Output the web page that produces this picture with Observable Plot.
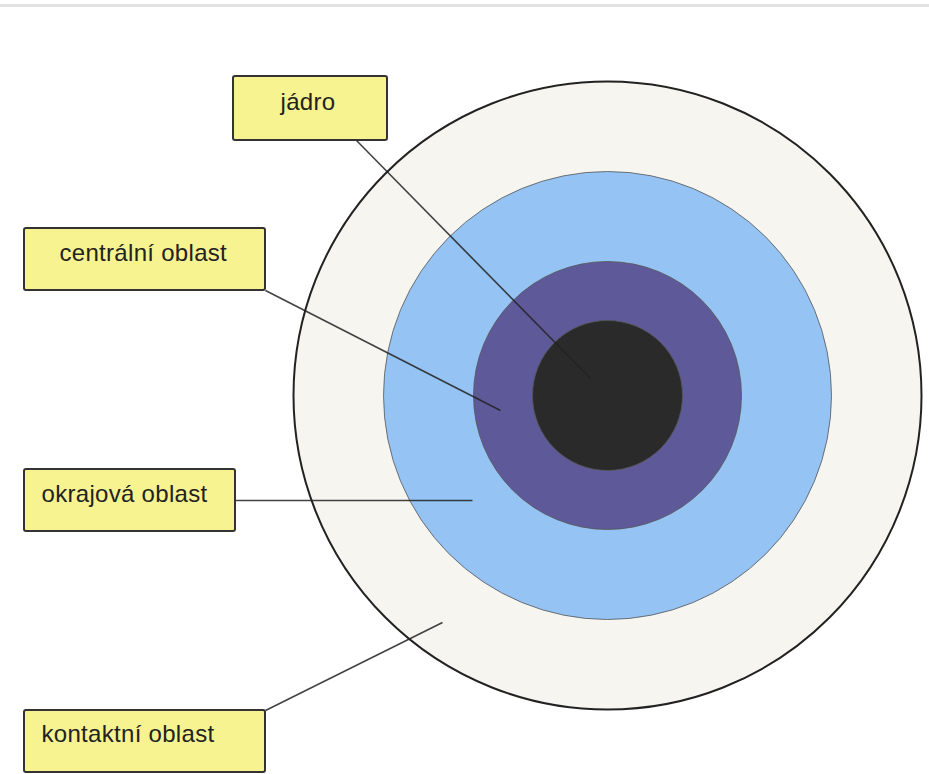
<!DOCTYPE html>
<html>
<head>
<meta charset="utf-8">
<script src="https://cdn.jsdelivr.net/npm/d3@7"></script>
<script src="https://cdn.jsdelivr.net/npm/@observablehq/plot@0.6"></script>
<style>
  html, body { margin: 0; padding: 0; background: #fff; }
  #chart svg { display: block; }
</style>
</head>
<body>
<div id="chart"></div>
<script>
// Concentric zones (outermost first)
const zoneNames  = ["kontaktní oblast", "okrajová oblast", "centrální oblast", "jádro"];
const zoneRadii  = [314, 224, 134, 75];
const zoneFills  = ["#f6f5f0", "#95c3f3", "#5e5a99", "#2a2a2a"];
const centerX = 607, centerY = 395;

// Label boxes and leader line targets
const labelTexts = ["jádro", "centrální oblast", "okrajová oblast", "kontaktní oblast"];
const boxX1 = [233, 24, 24, 24];
const boxX2 = [387, 265, 235, 265];
const boxY1 = [76, 228, 469, 710];
const boxY2 = [140, 290, 531, 772];
const textX = [280, 59, 41, 41];
const textY = [102, 253, 494, 734];
const lineFromX = [356, 265, 235, 265];
const lineFromY = [140, 290, 500, 710];
const lineToX = [590, 500, 472, 442];
const lineToY = [378, 410, 500, 622];

const zones = zoneNames.map((n, i) => ({name: n, r: zoneRadii[i], fill: zoneFills[i], x: centerX, y: centerY}));
const labels = labelTexts.map((t, i) => ({
  text: t, x1: boxX1[i], x2: boxX2[i], y1: boxY1[i], y2: boxY2[i],
  tx: textX[i], ty: textY[i],
  lx1: lineFromX[i], ly1: lineFromY[i], lx2: lineToX[i], ly2: lineToY[i]
}));

const chart = Plot.plot({
  width: 929,
  height: 774,
  margin: 0,
  x: {type: "identity"},
  y: {type: "identity"},
  r: {type: "identity"},
  style: {fontFamily: "'Liberation Sans', Arial, sans-serif", background: "#fff"},
  marks: [
    // faint top border of the slide
    Plot.ruleY([5], {x1: 0, x2: 929, stroke: "#e2e2e2", strokeWidth: 3}),
    Plot.dot(zones, {x: "x", y: "y", r: "r", fill: "fill", stroke: (d, i) => i === 0 ? "#222" : "#555", strokeWidth: (d, i) => i === 0 ? 2 : 0.8}),
    Plot.link(labels, {x1: "lx1", y1: "ly1", x2: "lx2", y2: "ly2", stroke: "#222", strokeWidth: 1.6, strokeOpacity: 0.85}),
    Plot.rect(labels, {x1: "x1", x2: "x2", y1: "y1", y2: "y2", fill: "#f7f390", stroke: "#333", strokeWidth: 2, rx: 2}),
    Plot.text(labels, {x: "tx", y: "ty", text: "text", textAnchor: "start", fontSize: 24, fill: "#222"})
  ]
});
chart.querySelectorAll("text").forEach(t => t.style.letterSpacing = "0.3px");
document.getElementById("chart").append(chart);
</script>
</body>
</html>
